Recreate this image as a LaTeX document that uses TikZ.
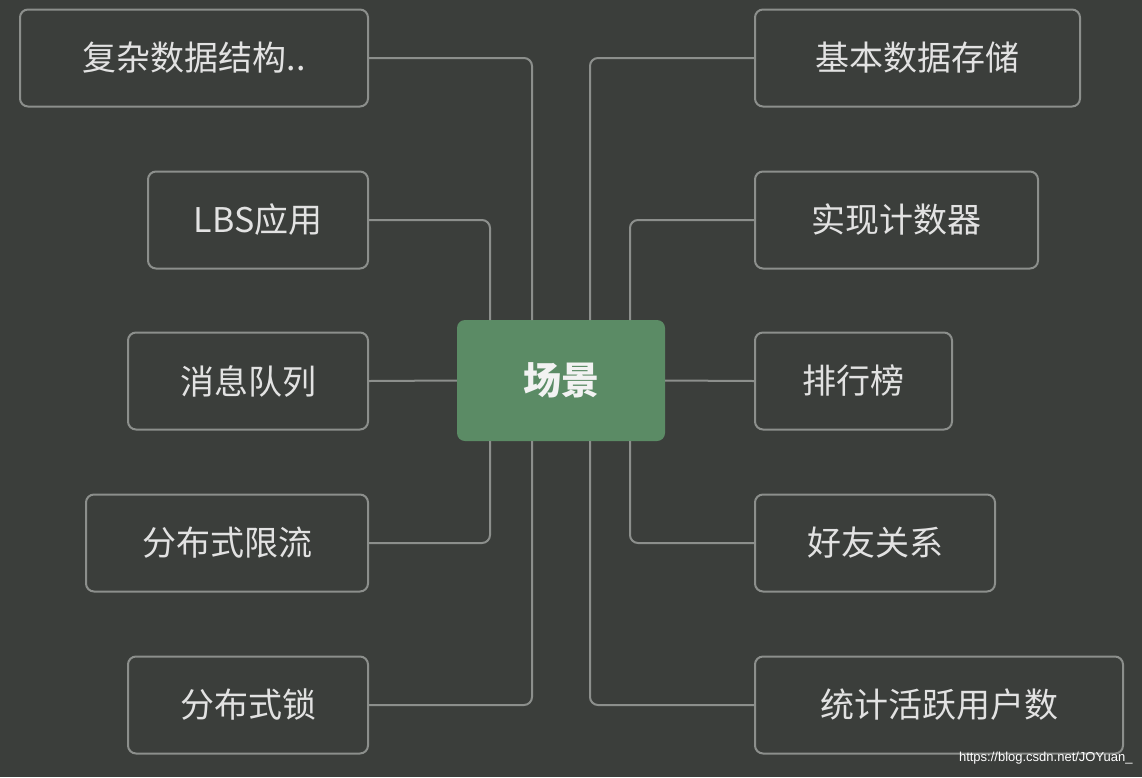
\documentclass[tikz,border=0pt]{standalone}
\usepackage{fontspec}
\newfontfamily\cjk{Noto Sans CJK SC}
\setmainfont{Liberation Sans}
\begin{document}
\begin{tikzpicture}[x=1pt,y=-1pt,
  box/.style={draw=boxc,line width=2pt,rounded corners=8pt,text=txt,font=\cjk\fontsize{34}{40}\selectfont,inner sep=0pt},
  link/.style={draw=boxc,line width=2pt,rounded corners=8pt}]
\definecolor{bg}{HTML}{3B3E3B}
\definecolor{boxc}{HTML}{8C8F8C}
\definecolor{txt}{HTML}{E2E2E2}
\definecolor{ctr}{HTML}{5B8B65}
\fill[bg] (0,0) rectangle (1142,777);
\useasboundingbox (0,0) rectangle (1142,777);
\newcommand\bx[6]{\node[box,minimum width=#3-#2,minimum height=97pt] (#1) at ({(#2+#3)/2},#4) {#5};}
\bx{l1}{20}{368}{58}{复杂数据结构..}{}
\bx{l2}{148}{368}{220}{LBS应用}{}
\bx{l3}{128}{368}{381}{消息队列}{}
\bx{l4}{86}{368}{543}{分布式限流}{}
\bx{l5}{128}{368}{705}{分布式锁}{}
\bx{r1}{755}{1080}{58}{基本数据存储}{}
\bx{r2}{755}{1038}{220}{实现计数器}{}
\bx{r3}{755}{952}{381}{排行榜}{}
\bx{r4}{755}{995}{543}{好友关系}{}
\bx{r5}{755}{1123}{705}{统计活跃用户数}{}
\node[fill=ctr,rounded corners=8pt,minimum width=208pt,minimum height=121pt,text=white!90!gray,font=\cjk\bfseries\fontsize{38}{44}\selectfont] (c) at (561,380.5) {场景};
\coordinate (ct) at (c.north); \coordinate (cb) at (c.south);
\draw[link] (l1.east) -| (532,320);
\draw[link] (l2.east) -| (490,320);
\draw[link] (l3.east) -- (c.west);
\draw[link] (l4.east) -| (490,441);
\draw[link] (l5.east) -| (532,441);
\draw[link] (r1.west) -| (590,320);
\draw[link] (r2.west) -| (630,320);
\draw[link] (r3.west) -- (c.east);
\draw[link] (r4.west) -| (630,441);
\draw[link] (r5.west) -| (590,441);
\node[text=white,font=\fontsize{13}{15}\selectfont,anchor=east] (wm) at (1136,758) {https://blog.csdn.net/JOYuan\_};
\end{tikzpicture}
\end{document}
